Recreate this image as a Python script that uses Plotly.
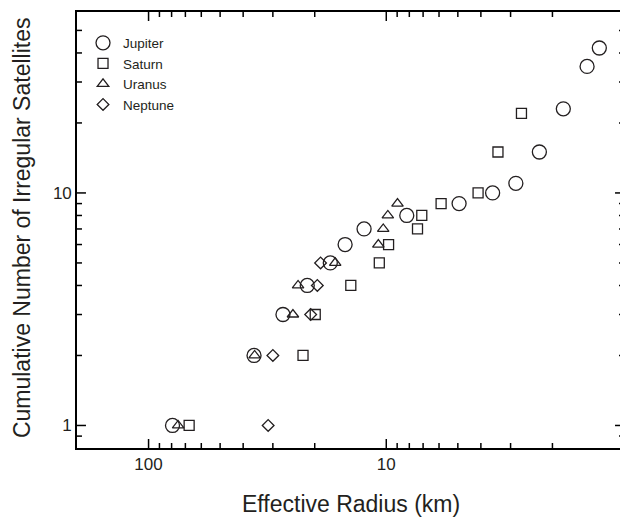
import math
import plotly.graph_objects as go

# ---- data ----
jupiter_r = [79.3, 36.0, 27.2, 21.5, 17.2, 14.9, 12.4, 8.2, 4.94, 3.57, 2.85, 2.27, 1.80, 1.43, 1.27]
jupiter_n = [1, 2, 3, 4, 5, 6, 7, 8, 9, 10, 11, 15, 23, 35, 42]

saturn_r = [67.5, 22.4, 19.9, 14.1, 10.7, 9.78, 7.39, 7.09, 5.88, 4.11, 3.39, 2.70]
saturn_n = [1, 2, 3, 4, 5, 6, 7, 8, 9, 10, 15, 22]

uranus_r = [75.1, 35.8, 24.7, 23.5, 16.4, 10.8, 10.3, 9.85, 8.97]
uranus_n = [1, 2, 3, 4, 5, 6, 7, 8, 9]

neptune_r = [31.4, 30.0, 20.8, 19.5, 18.9]
neptune_n = [1, 2, 3, 4, 5]

x_range = [200, 1]      # reversed log axis (left to right)
y_range = [0.8, 60]
x_major = [100, 10, 1]
x_major_text = ["100", "10", "1"]
x_minor = [2, 3, 4, 5, 6, 7, 8, 9, 20, 30, 40, 50, 60, 70, 80, 90]
y_major = [1, 10]
y_major_text = ["1", "10"]
y_minor = [0.9, 2, 3, 4, 5, 6, 7, 8, 9, 20, 30, 40, 50]

INK = "#231f20"
FONT = "Liberation Sans, Arial, Helvetica, sans-serif"
MAJOR_LEN, MINOR_LEN = 9, 5          # tick lengths in pixels
FIG_W, FIG_H = 620, 511
MARGIN = dict(l=69, r=2, t=4, b=71)

fig = go.Figure()

series = [
    ("Jupiter", jupiter_r, jupiter_n, "circle-open", 14),
    ("Saturn", saturn_r, saturn_n, "square-open", 10),
    ("Uranus", uranus_r, uranus_n, "triangle-up-open", 10),
    ("Neptune", neptune_r, neptune_n, "diamond-open", 9),
]
for name, r, n, sym, size in series:
    fig.add_trace(go.Scatter(
        x=r, y=n, mode="markers", name=name,
        marker=dict(symbol=sym, size=size, color=INK, line=dict(color=INK, width=1.3)),
    ))

xr = [math.log10(x_range[0]), math.log10(x_range[1])]
yr = [math.log10(y_range[0]), math.log10(y_range[1])]

axis_common = dict(
    type="log", showgrid=False, zeroline=False,
    showline=True, linecolor="black", linewidth=1.6, mirror=True,
    ticks="", tickmode="array",
    tickfont=dict(family=FONT, size=17, color=INK),
)
fig.update_layout(
    xaxis=dict(**axis_common, range=xr, tickvals=x_major, ticktext=x_major_text),
    yaxis=dict(**axis_common, range=yr, tickvals=y_major, ticktext=y_major_text),
)

# inside tick marks on all four sides, in data units of the log axes
plot_w = FIG_W - MARGIN["l"] - MARGIN["r"]
plot_h = FIG_H - MARGIN["t"] - MARGIN["b"]
x_px_per_dec = plot_w / abs(xr[1] - xr[0])
y_px_per_dec = plot_h / abs(yr[1] - yr[0])
tick_line = dict(color="black", width=1.5)
shapes = []
for vals, ln in ((x_major, MAJOR_LEN), (x_minor, MINOR_LEN)):
    f = 10 ** (ln / y_px_per_dec)
    for v in vals:
        shapes.append(dict(type="line", xref="x", yref="y", layer="above",
                           x0=v, x1=v, y0=y_range[0], y1=y_range[0] * f, line=tick_line))
        shapes.append(dict(type="line", xref="x", yref="y", layer="above",
                           x0=v, x1=v, y0=y_range[1], y1=y_range[1] / f, line=tick_line))
for vals, ln in ((y_major, MAJOR_LEN), (y_minor, MINOR_LEN)):
    f = 10 ** (ln / x_px_per_dec)
    for v in vals:
        shapes.append(dict(type="line", xref="x", yref="y", layer="above",
                           y0=v, y1=v, x0=x_range[0], x1=x_range[0] / f, line=tick_line))
        shapes.append(dict(type="line", xref="x", yref="y", layer="above",
                           y0=v, y1=v, x0=x_range[1], x1=x_range[1] * f, line=tick_line))

# page body has an 8px margin: shrink the figure so the plot lands where the reference has it
fig.update_layout(
    width=FIG_W, height=FIG_H,
    margin=MARGIN,
    paper_bgcolor="white", plot_bgcolor="white",
    font=dict(family=FONT, color=INK),
    shapes=shapes,
    showlegend=True,
    legend=dict(
        x=0.011, y=0.9644, xanchor="left", yanchor="top",
        bgcolor="rgba(0,0,0,0)", borderwidth=0,
        font=dict(family=FONT, size=13.5, color=INK),
        tracegroupgap=0, itemwidth=30,
    ),
    annotations=[
        dict(text="Effective Radius (km)", xref="paper", yref="paper",
             x=0.5, y=-0.129, xanchor="center", yanchor="middle",
             showarrow=False, font=dict(family=FONT, size=23, color=INK)),
        dict(text="Cumulative Number of Irregular Satellites", xref="paper", yref="paper",
             x=-0.1, y=0.505, xanchor="center", yanchor="middle", textangle=-90,
             showarrow=False, font=dict(family=FONT, size=23, color=INK)),
    ],
)

fig.write_html("out.html")
